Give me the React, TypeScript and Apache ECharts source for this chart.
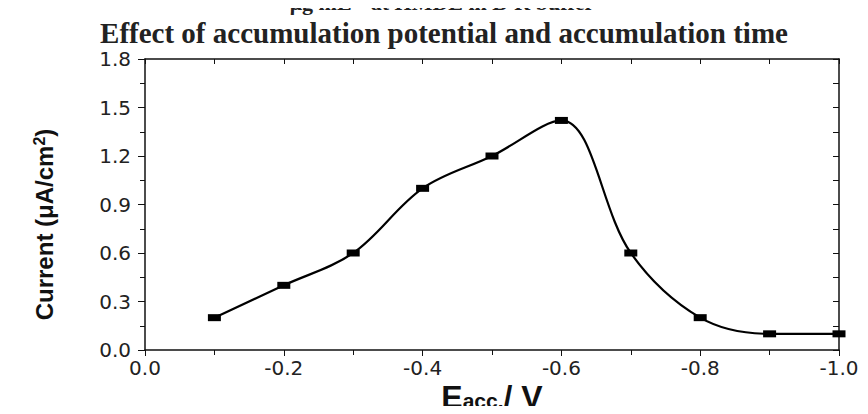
import React, { useEffect, useRef } from "react";
import * as echarts from "echarts";

const potentials = [-0.1, -0.2, -0.3, -0.4, -0.5, -0.6, -0.7, -0.8, -0.9, -1.0];
const currents = [0.2, 0.4, 0.6, 1.0, 1.2, 1.42, 0.6, 0.2, 0.1, 0.1];
const titleTop = "μg mL⁻¹ at HMDE in B-R buffer";
const titleMain = "Effect of accumulation potential and accumulation time";
const yName = "Current (μA/cm{sup|2})";
const xName = "E{sub|acc.}/ V";

export default function App() {
  const ref = useRef<HTMLDivElement>(null);
  useEffect(() => {
    if (!ref.current) return;
    const chart = echarts.init(ref.current, undefined, { renderer: "svg" });
    const labelStyle = {
      color: "#222",
      fontFamily: "DejaVu Sans",
      fontSize: 20,
    };
    chart.setOption({
      animation: false,
      backgroundColor: "#fff",
      title: [
        {
          text: titleTop,
          left: 437,
          textAlign: "center",
          top: -14,
          textStyle: { fontFamily: "Liberation Serif", fontWeight: "bold", fontSize: 22, color: "#222" },
        },
        {
          text: titleMain,
          left: 439,
          textAlign: "center",
          top: 13,
          textStyle: { fontFamily: "Liberation Serif", fontWeight: "bold", fontSize: 29, color: "#222" },
        },
      ],
      grid: { left: 145, right: 29, top: 59, bottom: 64, outerBoundsMode: "none", containLabel: false },
      xAxis: [
        {
          type: "value",
          min: -1.0,
          max: 0,
          interval: 0.2,
          inverse: true,
          position: "bottom",
          axisLine: { onZero: false, lineStyle: { color: "#111", width: 1.5 } },
          axisTick: { show: true, inside: false, length: 6, lineStyle: { color: "#111", width: 1 } },
          minorTick: { show: true, splitNumber: 2, length: 5, lineStyle: { color: "#111", width: 1 } },
          splitLine: { show: false },
          axisLabel: { ...labelStyle, margin: 8, formatter: (v: number) => v.toFixed(1) },
          name: xName,
          nameLocation: "middle",
          nameGap: 33,
          nameMoveOverlap: false,
          nameTextStyle: {
            fontFamily: "Liberation Sans",
            fontWeight: "bold",
            fontSize: 32,
            color: "#111",
            lineHeight: 28,
            rich: {
              sub: { fontFamily: "Liberation Sans", fontWeight: "bold", fontSize: 21, color: "#111", lineHeight: 28, verticalAlign: "bottom", padding: [8, 0, 0, 0] },
            },
          },
        },
        {
          type: "value",
          min: -1.0,
          max: 0,
          interval: 0.1,
          inverse: true,
          position: "top",
          axisLine: { onZero: false, lineStyle: { color: "#111", width: 1.5 } },
          axisTick: { show: true, inside: true, length: 5, lineStyle: { color: "#111", width: 1 } },
          splitLine: { show: false },
          axisLabel: { show: false },
        },
      ],
      yAxis: [
        {
          type: "value",
          min: 0,
          max: 1.8,
          interval: 0.3,
          position: "left",
          axisLine: { show: true, onZero: false, lineStyle: { color: "#111", width: 1.5 } },
          axisTick: { show: true, inside: false, length: 7, lineStyle: { color: "#111", width: 1 } },
          minorTick: { show: true, splitNumber: 2, length: 5, lineStyle: { color: "#111", width: 1 } },
          splitLine: { show: false },
          axisLabel: { ...labelStyle, margin: 14, formatter: (v: number) => v.toFixed(1) },
          name: yName,
          nameLocation: "middle",
          nameGap: 88,
          nameMoveOverlap: false,
          nameTextStyle: {
            fontFamily: "Liberation Sans",
            fontWeight: "bold",
            fontSize: 24,
            color: "#111",
            padding: [0, 40, 0, 0],
            rich: {
              sup: { fontFamily: "Liberation Sans", fontWeight: "bold", fontSize: 16, color: "#111", verticalAlign: "top", padding: [0, 0, 10, 0] },
            },
          },
        },
        {
          type: "value",
          min: 0,
          max: 1.8,
          interval: 0.15,
          position: "right",
          axisLine: { show: true, onZero: false, lineStyle: { color: "#111", width: 1.5 } },
          axisTick: { show: true, inside: true, length: 6, lineStyle: { color: "#111", width: 1 } },
          splitLine: { show: false },
          axisLabel: { show: false },
        },
      ],
      series: [
        {
          type: "line",
          xAxisIndex: 0,
          yAxisIndex: 0,
          data: potentials.map((p, i) => [p, currents[i]]),
          smooth: 0.35,
          symbol: "rect",
          symbolSize: [13, 7],
          itemStyle: { color: "#000" },
          lineStyle: { color: "#000", width: 2.2 },
          clip: false,
        },
      ],
    });
    return () => chart.dispose();
  }, []);
  return <div ref={ref} style={{ width: 868, height: 414, margin: -8 }} />;
}
